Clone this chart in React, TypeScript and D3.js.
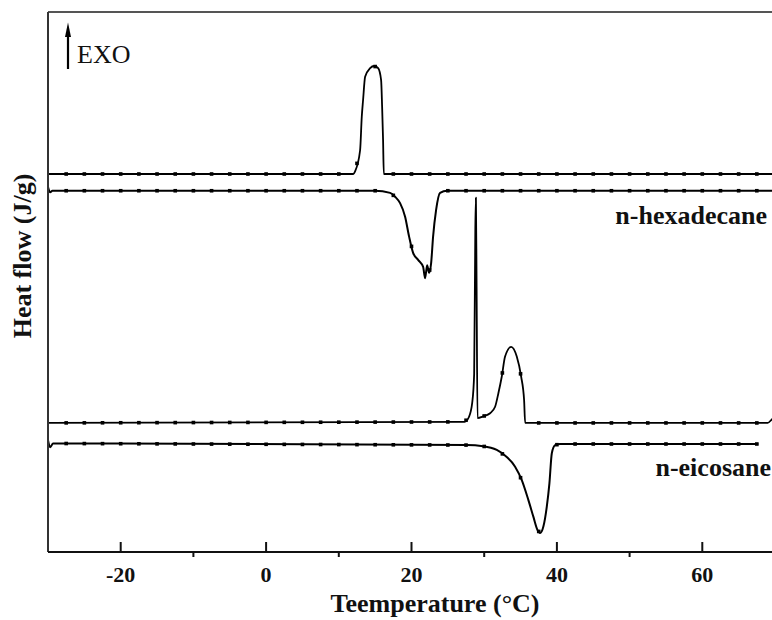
import React from "react";
import * as d3 from "d3";

// Temperature (°C) and heat-flow (arbitrary, offset) values
const hexCoolT = [-30, 12.0, 12.24, 12.93, 13.16, 13.34, 13.62, 14.31, 14.86, 15.41, 15.82, 15.96, 16.09, 16.19, 70];
const hexCoolV = [70.0, 70.0, 70.5, 74.4, 80.6, 83.7, 88.0, 89.6, 90.0, 89.6, 87.4, 82.4, 76.3, 70.0, 70.0];

const hexHeatT = [-30, -29.7, -29.4, 15, 17.06, 17.74, 18.43, 19.12, 19.67, 20.22, 20.91, 21.6, 21.87, 22.15, 22.42, 22.7, 22.97, 23.38, 23.93, 24.9, 70];
const hexHeatV = [67.6, 66.6, 66.9, 66.9, 66.5, 65.8, 64.6, 62.1, 58.4, 55.4, 54.1, 52.8, 50.7, 53.1, 51.7, 53.5, 58.4, 63.3, 66.5, 66.9, 66.9];

const eicCoolT = [-30, 27.3, 27.9, 28.35, 28.62, 28.78, 28.86, 28.95, 29.08, 29.85, 30.81, 31.5, 31.95, 32.42, 32.87, 33.7, 34.48, 35.08, 35.49, 35.63, 69.0, 69.6, 70];
const eicCoolV = [23.9, 24.1, 25.0, 27.6, 33.0, 60.0, 65.6, 50.0, 24.8, 25.1, 25.7, 26.9, 29.4, 32.5, 36.2, 38.0, 36.2, 32.5, 28.1, 23.9, 23.9, 24.6, 25.0];

const eicHeatT = [-30, -29.7, -29.3, 27.6, 29.85, 31.73, 33.1, 34.25, 35.17, 36.08, 36.77, 37.32, 37.69, 38.14, 38.61, 38.97, 39.3, 39.75, 40.44, 67.7];
const eicHeatV = [20.7, 19.4, 20.1, 19.8, 19.6, 18.9, 17.6, 15.8, 13.3, 9.6, 6.5, 4.1, 3.5, 4.7, 8.4, 12.7, 18.3, 19.8, 20.0, 20.0];

const majorTicks = [-20, 0, 20, 40, 60];
const minorTicks = [-10, 10, 30, 50];
const markerStep = 2.5;

const sampleLabels = ["n-hexadecane", "n-eicosane"];
const xTitle = "Teemperature (°C)";
const yTitle = "Heat flow (J/g)";
const exoLabel = "EXO";

const W = 772;
const H = 620;
const L = 48;
const T = 12;
const B = 552;

export default function App() {
  const x = d3.scaleLinear().domain([-30, 70]).range([L, 775]);
  const y = d3.scaleLinear().domain([0, 100]).range([B, T]);

  const series = [
    { t: hexCoolT, v: hexCoolV, w: 1.8 },
    { t: hexHeatT, v: hexHeatV, w: 2 },
    { t: eicCoolT, v: eicCoolV, w: 1.8 },
    { t: eicHeatT, v: eicHeatV, w: 2 },
  ];

  const line = d3
    .line<[number, number]>()
    .x((d) => x(d[0]))
    .y((d) => y(d[1]))
    .curve(d3.curveMonotoneX);

  const interp = (tt: number, ts: number[], vs: number[]) => {
    const i = d3.bisectLeft(ts, tt);
    if (i <= 0) return vs[0];
    if (i >= ts.length) return vs[vs.length - 1];
    const t0 = ts[i - 1], t1 = ts[i];
    const f = (tt - t0) / (t1 - t0);
    return vs[i - 1] + f * (vs[i] - vs[i - 1]);
  };

  const serif = "'Liberation Serif', 'Times New Roman', serif";

  return (
    <svg
      width={W}
      height={H}
      style={{ position: "absolute", left: 0, top: 0, background: "#fff" }}
    >
      <defs>
        <clipPath id="plot">
          <rect x={L} y={T} width={W - L} height={B - T} />
        </clipPath>
      </defs>
      <rect x={0} y={0} width={W} height={H} fill="#fff" />

      <g clipPath="url(#plot)">
        {series.map((s, k) => {
          const pts: [number, number][] = s.t.map((t, i) => [t, s.v[i]]);
          const tMax = s.t[s.t.length - 1];
          const marks = d3.range(-27.5, tMax + 0.01, markerStep);
          return (
            <g key={k}>
              <path d={line(pts) || ""} fill="none" stroke="#000" strokeWidth={s.w} strokeLinejoin="round" />
              {marks.map((m, j) => (
                <rect
                  key={j}
                  x={x(m) - 1.8}
                  y={y(interp(m, s.t, s.v)) - 1.8}
                  width={3.6}
                  height={3.6}
                  fill="#000"
                />
              ))}
            </g>
          );
        })}
      </g>

      {/* frame */}
      <line x1={L} x2={W} y1={T} y2={T} stroke="#555" strokeWidth={2} />
      <line x1={L} x2={L} y1={T} y2={B} stroke="#333" strokeWidth={2} />
      <line x1={L} x2={W} y1={B} y2={B} stroke="#111" strokeWidth={2} />

      {majorTicks.map((t) => (
        <g key={t}>
          <line x1={x(t)} x2={x(t)} y1={B} y2={B - 10} stroke="#111" strokeWidth={2} />
          <text
            x={x(t)}
            y={582}
            textAnchor="middle"
            fontFamily={serif}
            fontWeight="bold"
            fontSize={22}
            fill="#111"
          >
            {t}
          </text>
        </g>
      ))}
      {minorTicks.map((t) => (
        <line key={t} x1={x(t)} x2={x(t)} y1={B} y2={B + 5} stroke="#111" strokeWidth={2} />
      ))}

      <text x={435} y={612} textAnchor="middle" fontFamily={serif} fontWeight="bold" fontSize={26} fill="#111">
        {xTitle}
      </text>
      <text
        transform="translate(31,256) rotate(-90)"
        textAnchor="middle"
        fontFamily={serif}
        fontWeight="bold"
        fontSize={26}
        fill="#111"
      >
        {yTitle}
      </text>

      {/* EXO arrow */}
      <line x1={68} x2={68} y1={69} y2={32} stroke="#000" strokeWidth={2.2} />
      <polygon points="65,37 68,22.5 71,37" fill="#000" />
      <text x={77} y={63} fontFamily={serif} fontSize={26} fill="#111">
        {exoLabel}
      </text>

      <text x={767} y={224} textAnchor="end" fontFamily={serif} fontWeight="bold" fontSize={26} fill="#111">
        {sampleLabels[0]}
      </text>
      <text x={771} y={476} textAnchor="end" fontFamily={serif} fontWeight="bold" fontSize={26} fill="#111">
        {sampleLabels[1]}
      </text>
    </svg>
  );
}
